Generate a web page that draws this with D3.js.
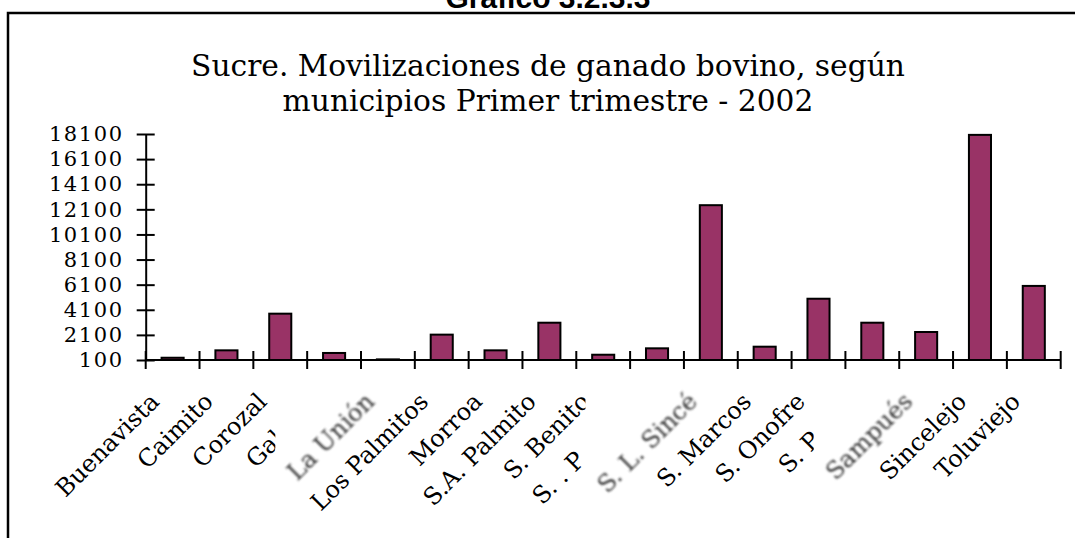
<!DOCTYPE html>
<html>
<head>
<meta charset="utf-8">
<script src="https://cdn.jsdelivr.net/npm/d3@7"></script>
<style>
    body { margin: 0; background: #fff; }
    svg { display: block; }
    text { font-family: "DejaVu Serif", serif; fill: #000; }
</style>
</head>
<body>
<svg id="chart" width="1075" height="538"></svg>
<script>
// data
const categories = ['Buenavista', 'Caimito', 'Corozal', 'Galeras', 'La Unión', 'Los Palmitos', 'Morroa',
    'S.A. Palmito', 'S. Benito', 'S. . P', 'S. L. Sincé', 'S. Marcos', 'S. Onofre', 'S. Pedro',
    'Sampués', 'Sincelejo', 'Toluviejo'];
const values = [280, 870, 3790, 660, 150, 2120, 870, 3070, 520, 1030, 12430, 1160, 4980, 3070, 2330, 18030, 6000];
const yTicks = [100, 2100, 4100, 6100, 8100, 10100, 12100, 14100, 16100, 18100];
const blurred = ['La Unión', 'S. L. Sincé', 'Sampués'];
const heading = 'Gráfico 3.2.3.3';
const titleLines = ['Sucre. Movilizaciones de ganado bovino, según', 'municipios Primer trimestre - 2002'];

const svg = d3.select('#chart');

// filter for the blurry pasted labels
svg.append('defs').append('filter')
    .attr('id', 'soft')
    .append('feGaussianBlur')
    .attr('stdDeviation', 1.1);

// heading, mostly cut off by the page top
svg.append('text')
    .attr('x', 548)
    .attr('y', 8)
    .attr('text-anchor', 'middle')
    .style('font-family', '"Liberation Sans", Arial, sans-serif')
    .style('font-weight', 'bold')
    .style('font-size', '30px')
    .text(heading);

// frame
svg.append('rect')
    .attr('x', 8).attr('y', 13)
    .attr('width', 1100).attr('height', 600)
    .attr('fill', 'none')
    .attr('stroke', '#000')
    .attr('stroke-width', 2.5);

svg.selectAll('text.title')
    .data(titleLines)
    .enter().append('text')
    .attr('class', 'title')
    .attr('x', 548)
    .attr('y', (d, i) => 76 + i * 35)
    .attr('text-anchor', 'middle')
    .style('font-size', '29.7px')
    .text(d => d);

const x = d3.scaleBand()
    .domain(categories)
    .range([145.7, 1060.7])
    .paddingInner(0.59)
    .paddingOuter(0.295);

const y = d3.scaleLinear()
    .domain([100, 18100])
    .range([360, 134]);

// bars
svg.append('g')
    .selectAll('rect')
    .data(values)
    .enter().append('rect')
    .attr('x', (d, i) => x(categories[i]))
    .attr('y', d => y(d))
    .attr('width', x.bandwidth())
    .attr('height', d => y(100) - y(d))
    .attr('fill', '#993366')
    .attr('stroke', '#000')
    .attr('stroke-width', 2);

// y axis, ticks cross the line
const yAxis = svg.append('g')
    .attr('transform', `translate(${x.range()[0]},0)`)
    .call(d3.axisLeft(y).tickValues(yTicks).tickFormat(d3.format('d')).tickSize(9).tickSizeOuter(0));
yAxis.select('.domain').attr('stroke-width', 2);
yAxis.selectAll('.tick line').attr('x1', 9).attr('stroke-width', 2);
yAxis.selectAll('.tick text')
    .attr('x', -22)
    .style('font-family', '"DejaVu Serif", serif')
    .style('font-size', '21px')
    .style('letter-spacing', '1.6px');

// x axis line with ticks at the band edges
const step = x.step();
const edges = categories.map(c => x(c) - step * x.paddingInner() / 2).concat([x.range()[1]]);
const xAxis = svg.append('g');
xAxis.append('line')
    .attr('x1', x.range()[0]).attr('x2', x.range()[1])
    .attr('y1', y(100)).attr('y2', y(100))
    .attr('stroke', '#000').attr('stroke-width', 2);
xAxis.selectAll('line.tick')
    .data(edges)
    .enter().append('line')
    .attr('class', 'tick')
    .attr('x1', d => d).attr('x2', d => d)
    .attr('y1', y(100) - 9).attr('y2', y(100) + 9)
    .attr('stroke', '#000').attr('stroke-width', 2);

// category labels, drawn in order so the pasted (blurred) ones cover earlier neighbours
const labelY = 403;
categories.forEach(c => {
    const px = x(c) + x.bandwidth() / 2 - 12;
    const g = svg.append('g');
    const t = g.append('text')
        .attr('transform', `translate(${px},${labelY}) rotate(-45)`)
        .attr('text-anchor', 'end')
        .attr('dx', c === 'S. . P' ? -83 : 0)
        .style('font-size', '24px')
        .text(c);
    if (blurred.includes(c)) {
        const len = t.node().getComputedTextLength();
        const sx = px - len * Math.SQRT1_2;
        const sy = labelY + len * Math.SQRT1_2;
        g.insert('rect', 'text')
            .attr('x', sx - 22).attr('y', 372)
            .attr('width', px + 6 - (sx - 22))
            .attr('height', sy + 6 - 372)
            .attr('fill', '#fff');
        t.style('fill', '#333').attr('filter', 'url(#soft)');
    }
});
</script>
</body>
</html>
